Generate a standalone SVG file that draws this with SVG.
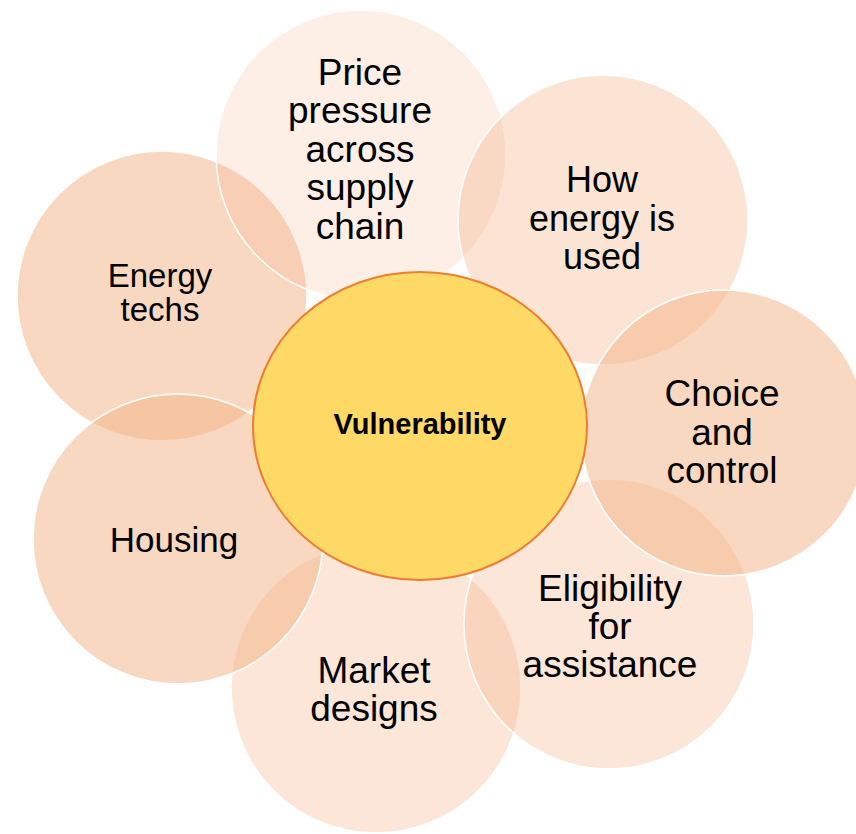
<svg xmlns="http://www.w3.org/2000/svg" width="856" height="834" viewBox="0 0 856 834">
  <style>
    .petal { fill: #F4B183; stroke: #FFFFFF; stroke-width: 1.5; }
    .label { font-family: "Liberation Sans", Arial, sans-serif; font-size: 37px; fill: #000000; text-anchor: middle; }
    .core { fill: #FFD966; stroke: #ED7D31; stroke-width: 2; }
    .core-label { font-family: "Liberation Sans", Arial, sans-serif; font-size: 29px; font-weight: bold; fill: #000000; text-anchor: middle; }
  </style>
  <rect width="856" height="834" fill="#FFFFFF"/>

  <!-- outer factors, drawn back to front -->
  <g id="market-designs">
    <circle class="petal" cx="376" cy="688" r="145" fill-opacity="0.32"/>
    <text class="label" x="374" y="683">Market</text>
    <text class="label" x="374" y="721">designs</text>
  </g>

  <g id="eligibility">
    <circle class="petal" cx="609" cy="624" r="145" fill-opacity="0.32"/>
    <text class="label" x="610" y="601">Eligibility</text>
    <text class="label" x="610" y="639">for</text>
    <text class="label" x="610" y="677">assistance</text>
  </g>

  <g id="energy-techs">
    <circle class="petal" cx="162" cy="296" r="145" fill-opacity="0.5"/>
    <text class="label" x="160" y="287" style="font-size:33px">Energy</text>
    <text class="label" x="160" y="321" style="font-size:33px">techs</text>
  </g>

  <g id="price-pressure">
    <circle class="petal" cx="361" cy="155" r="145" fill-opacity="0.2"/>
    <text class="label" x="360" y="85">Price</text>
    <text class="label" x="360" y="123">pressure</text>
    <text class="label" x="360" y="162">across</text>
    <text class="label" x="360" y="200">supply</text>
    <text class="label" x="360" y="239">chain</text>
  </g>

  <g id="energy-use">
    <circle class="petal" cx="603" cy="220" r="145" fill-opacity="0.35"/>
    <text class="label" x="602" y="192" style="font-size:36px">How</text>
    <text class="label" x="602" y="231" style="font-size:36px">energy is</text>
    <text class="label" x="602" y="269" style="font-size:36px">used</text>
  </g>

  <g id="choice-control">
    <circle class="petal" cx="724" cy="433" r="143" fill-opacity="0.5"/>
    <text class="label" x="722" y="406">Choice</text>
    <text class="label" x="722" y="445">and</text>
    <text class="label" x="722" y="483">control</text>
  </g>

  <g id="housing">
    <circle class="petal" cx="178" cy="539" r="145" fill-opacity="0.5"/>
    <text class="label" x="174" y="552" style="font-size:35px">Housing</text>
  </g>

  <!-- central theme -->
  <g id="vulnerability">
    <ellipse class="core" cx="420" cy="426" rx="167" ry="154"/>
    <text class="core-label" x="420" y="434">Vulnerability</text>
  </g>

  <g id="connectors"/>
</svg>
